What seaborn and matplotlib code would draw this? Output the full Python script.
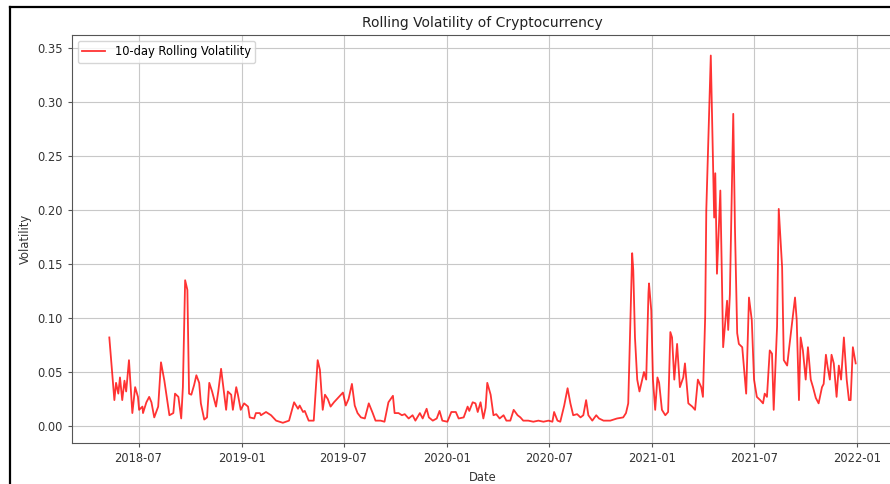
import matplotlib
matplotlib.use("Agg")
import matplotlib.pyplot as plt
from matplotlib.lines import Line2D
import seaborn as sns
import pandas as pd

# Observation days, counted from 2018-07-01, and the 10-day rolling volatility on each
day_offsets = [
    -52, -43, -40, -36, -33, -29, -25, -22, -17, -11, -6, -1, 1, 7, 8, 14, 19, 23, 28, 35,
    40, 46, 51, 55, 62, 65, 71, 76, 79, 83, 87, 90, 94, 99, 103, 108, 111, 117, 122, 126,
    131, 138, 142, 147, 152, 156, 159, 165, 168, 174, 177, 182, 188, 195, 198, 206, 209, 216,
    218, 227, 236, 245, 257, 268, 277, 284, 287, 293, 296, 303, 312, 319, 323, 328, 332, 337,
    342, 348, 357, 364, 369, 374, 380, 385, 390, 396, 403, 410, 417, 422, 431, 438, 445, 453,
    456, 463, 469, 474, 481, 488, 493, 501, 506, 513, 517, 524, 531, 536, 541, 550, 557,
    565, 570, 579, 586, 589, 595, 600, 604, 609, 614, 618, 621, 627, 632, 637, 643, 650, 655,
    662, 668, 675, 680, 685, 694, 703, 712, 721, 730, 737, 740, 746, 751, 758, 764, 769, 774,
    781, 787, 792, 797, 801, 808, 815, 820, 828, 840, 852, 863,
    868, 872, 879, 881, 884, 888, 892, 897, 900, 904, 908, 909, 913, 916, 920, 924, 927, 932,
    938, 943, 947, 950, 954, 959, 964, 970, 973, 977, 979, 986, 991, 996, 1002, 1005, 1009,
    1011, 1019, 1025, 1027, 1030, 1036, 1041, 1048, 1050, 1053, 1059, 1062, 1066, 1069, 1075,
    1076, 1082, 1087, 1092, 1096, 1101, 1107, 1112, 1115, 1119, 1124, 1128, 1131, 1137, 1140,
    1146, 1149, 1155, 1158, 1163, 1169, 1172, 1176, 1179, 1183, 1188, 1192, 1197, 1201, 1206,
    1211, 1217, 1220, 1224, 1227, 1231, 1234, 1238, 1243, 1247, 1251, 1256, 1261, 1265, 1268,
    1272, 1277,
]
volatility = [
    0.082, 0.024, 0.040, 0.030, 0.045, 0.024, 0.042, 0.032, 0.061, 0.012, 0.036, 0.027, 0.015,
    0.018, 0.012, 0.022, 0.027, 0.022, 0.008, 0.018, 0.059, 0.042, 0.024, 0.010, 0.012, 0.030,
    0.027, 0.007, 0.036, 0.135, 0.126, 0.030, 0.029, 0.038, 0.047, 0.040, 0.021, 0.006, 0.008,
    0.040, 0.032, 0.018, 0.032, 0.053, 0.032, 0.015, 0.032, 0.029, 0.015, 0.036, 0.029, 0.015,
    0.021, 0.018, 0.008, 0.007, 0.012, 0.012,
    0.010, 0.013, 0.010, 0.005, 0.003, 0.005, 0.022, 0.016, 0.019, 0.013, 0.014, 0.005, 0.005,
    0.061, 0.052, 0.015, 0.029, 0.025, 0.018, 0.022, 0.027, 0.031, 0.019, 0.025, 0.039, 0.019,
    0.012, 0.008, 0.007, 0.021, 0.012, 0.005, 0.005, 0.004, 0.022, 0.028, 0.012, 0.012, 0.010,
    0.011, 0.007, 0.010, 0.005, 0.012, 0.007, 0.016, 0.008, 0.005, 0.007, 0.014, 0.005, 0.004,
    0.013,
    0.013, 0.007, 0.008, 0.018, 0.014, 0.022, 0.021, 0.013, 0.022, 0.007, 0.017, 0.040, 0.029,
    0.010, 0.011, 0.007, 0.010, 0.005, 0.005, 0.015, 0.010, 0.008, 0.005, 0.005, 0.004, 0.005,
    0.004, 0.005, 0.004, 0.013, 0.005, 0.004, 0.019, 0.035, 0.021, 0.010, 0.011, 0.008, 0.010,
    0.024, 0.010, 0.005, 0.010, 0.007, 0.005, 0.005, 0.007, 0.008,
    0.012, 0.021, 0.160, 0.144, 0.082, 0.043, 0.032, 0.043, 0.050, 0.043, 0.123, 0.132, 0.107,
    0.043, 0.015, 0.045, 0.040, 0.015, 0.010, 0.013, 0.087, 0.082, 0.043, 0.076, 0.036, 0.045,
    0.058, 0.033, 0.021, 0.018, 0.015, 0.043, 0.036, 0.027, 0.101, 0.200, 0.343, 0.193, 0.234,
    0.141, 0.218, 0.073, 0.116, 0.089, 0.122, 0.289, 0.184, 0.086, 0.076, 0.073, 0.067, 0.030,
    0.119, 0.098, 0.043, 0.027, 0.024, 0.021, 0.030, 0.027, 0.070, 0.067, 0.015, 0.092, 0.201,
    0.147, 0.061, 0.056, 0.070, 0.092, 0.119, 0.098, 0.024, 0.082, 0.070, 0.043, 0.073, 0.043,
    0.036, 0.026, 0.021, 0.036, 0.039, 0.066, 0.055, 0.043, 0.066, 0.058, 0.027, 0.056, 0.043,
    0.082, 0.043, 0.024, 0.024, 0.073, 0.058,
]

base_date = pd.Timestamp("2018-07-01")
df = pd.DataFrame({
    "Date": base_date + pd.to_timedelta(day_offsets, unit="D"),
    "Volatility": volatility,
})

plt.rcParams["font.family"] = ["DejaVu Sans"]
plt.rcParams["axes.edgecolor"] = "#555555"
plt.rcParams["xtick.color"] = "#555555"
plt.rcParams["ytick.color"] = "#555555"
plt.rcParams["xtick.labelcolor"] = "#333333"
plt.rcParams["ytick.labelcolor"] = "#333333"

W, H = 890, 484
fig = plt.figure(figsize=(W / 100, H / 100), dpi=100)
ax = fig.add_axes([72 / W, (H - 443) / H, (893 - 72) / W, (443 - 35) / H])

sns.lineplot(data=df, x="Date", y="Volatility", ax=ax, color="red", alpha=0.8,
             linewidth=1.3, label="10-day Rolling Volatility")

ax.set_ylim(-0.0157, 0.362)
ax.set_yticks([0.0, 0.05, 0.10, 0.15, 0.20, 0.25, 0.30, 0.35])
ax.set_yticklabels([f"{v:.2f}" for v in ax.get_yticks()])
ax.tick_params(labelsize=8.3, length=3, width=0.8)
ax.grid(True, color="#c8c8c8", linewidth=0.8)
ax.set_axisbelow(True)

ax.set_title("Rolling Volatility of Cryptocurrency", fontsize=10, color="#222222")
ax.set_xlabel("Date", fontsize=8.3, color="#333333")
ax.set_ylabel("Volatility", fontsize=8.3, color="#333333")
ax.legend(loc="upper left", fontsize=8.3, framealpha=0.8)

# dark frame around the plot area
fig.add_artist(Line2D([10 / W, 10 / W], [0, 1 - 7 / H], color="black", linewidth=1.6,
                      transform=fig.transFigure))
fig.add_artist(Line2D([10 / W, 1], [1 - 7 / H, 1 - 7 / H], color="black", linewidth=1.6,
                      transform=fig.transFigure))

fig.savefig("out.png", dpi=100)
